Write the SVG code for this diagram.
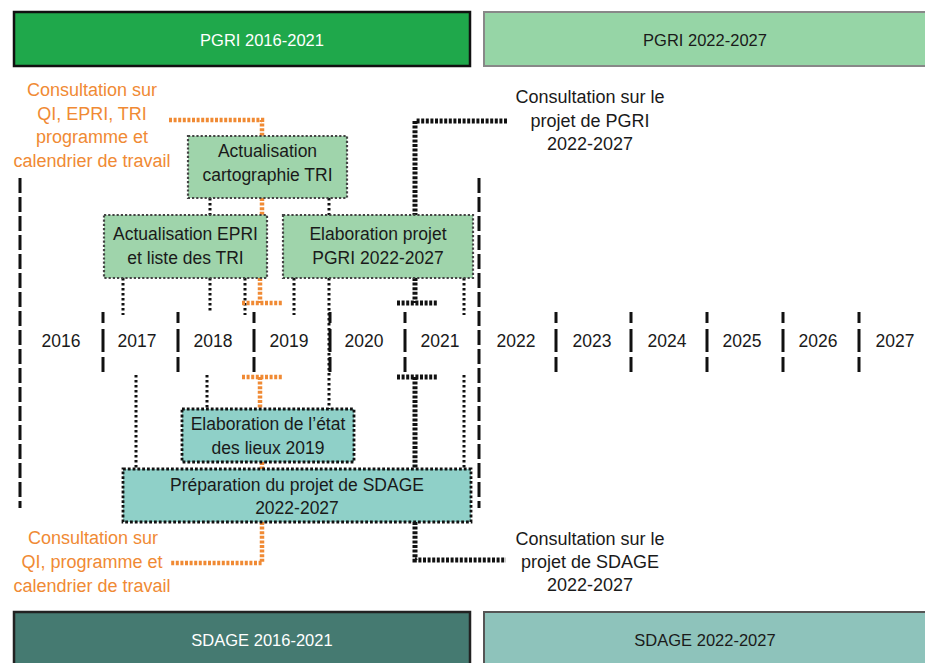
<svg xmlns="http://www.w3.org/2000/svg" width="925" height="663" viewBox="0 0 925 663">
<style>
text{font-family:"Liberation Sans",Arial,sans-serif;text-anchor:middle}
.bar{font-size:16.5px}
.yr{font-size:17.5px;fill:#1a1a1a}
.nt{font-size:17.5px;fill:#1a1a1a}
.cb{font-size:18px;fill:#1a1a1a}
.co{font-size:18px;fill:#f08a34}
.gn{fill:#9fd4ab;stroke:#444;stroke-width:2.2;stroke-dasharray:2.2 2}
.tl{fill:#8fd0c8;stroke:#111;stroke-width:2.8;stroke-dasharray:2.8 2}
.sepL{stroke:#111;stroke-width:3;stroke-dasharray:15 4;fill:none}
.sepS{stroke:#111;stroke-width:3;stroke-dasharray:11 6 23 5 15;fill:none}
.thin{stroke:#111;stroke-width:3;stroke-dasharray:2.5 2.5;fill:none}
.thick{stroke:#111;stroke-width:5;stroke-dasharray:3 1.6;fill:none}
.or{stroke:#f08a34;stroke-width:4.5;stroke-dasharray:3 1.6;fill:none}
</style>

<g id="bars">
<g id="pgri1"><rect x="14" y="12" width="456" height="54" fill="#1fa84b" stroke="#111" stroke-width="2.5"/><text class="bar" x="262" y="46" fill="#fff">PGRI 2016-2021</text></g>
<g id="pgri2"><rect x="484" y="12" width="450" height="54" fill="#96d5a6" stroke="#888" stroke-width="2"/><text class="bar" x="705" y="46" fill="#1a1a1a">PGRI 2022-2027</text></g>
<g id="sdage1"><rect x="14" y="612" width="456" height="60" fill="#457a71" stroke="#222" stroke-width="2.5"/><text class="bar" x="262" y="646" fill="#fff">SDAGE 2016-2021</text></g>
<g id="sdage2"><rect x="484" y="612" width="450" height="60" fill="#8ec3bb" stroke="#555" stroke-width="2"/><text class="bar" x="705" y="646" fill="#1a1a1a">SDAGE 2022-2027</text></g>
</g>

<g id="timeline">
<line class="sepL" x1="20" y1="178" x2="20" y2="508"/>
<line class="sepL" x1="479" y1="178" x2="479" y2="508"/>
<line class="sepS" x1="103" y1="312" x2="103" y2="372"/>
<line class="sepS" x1="178" y1="312" x2="178" y2="372"/>
<line class="sepS" x1="254" y1="312" x2="254" y2="372"/>
<line class="sepS" x1="330" y1="312" x2="330" y2="372"/>
<line class="sepS" x1="405" y1="312" x2="405" y2="372"/>
<line class="sepS" x1="556" y1="312" x2="556" y2="372"/>
<line class="sepS" x1="631" y1="312" x2="631" y2="372"/>
<line class="sepS" x1="707" y1="312" x2="707" y2="372"/>
<line class="sepS" x1="783" y1="312" x2="783" y2="372"/>
<line class="sepS" x1="859" y1="312" x2="859" y2="372"/>
<text class="yr" x="61" y="347">2016</text>
<text class="yr" x="137" y="347">2017</text>
<text class="yr" x="213" y="347">2018</text>
<text class="yr" x="289" y="347">2019</text>
<text class="yr" x="364" y="347">2020</text>
<text class="yr" x="440" y="347">2021</text>
<text class="yr" x="516" y="347">2022</text>
<text class="yr" x="592" y="347">2023</text>
<text class="yr" x="667" y="347">2024</text>
<text class="yr" x="742" y="347">2025</text>
<text class="yr" x="818" y="347">2026</text>
<text class="yr" x="895" y="347">2027</text>
</g>

<g id="connectors">
<path class="thin" d="M210 198V215M329 198V215"/>
<path class="thin" d="M123 278V315M210 278V313M245 278V315M294 278V315M464 278V315"/>
<path class="thin" d="M329 278V409"/>
<path class="thin" d="M136 375V469M207 375V409M464 375V469"/>
<path class="thick" d="M507 121H415V215"/>
<path class="thick" d="M415 278V303M397 303H437"/>
<path class="thick" d="M397 377H437M415 377V469"/>
<path class="thick" d="M415 522V560H506"/>
<path class="or" d="M169 120H262V136"/>
<path class="or" d="M262 198V215"/>
<path class="or" d="M260 278V303M242 303H282"/>
<path class="or" d="M242 377H282M260 377V409"/>
<path class="or" d="M262 462V469"/>
<path class="or" d="M262 522V563H170"/>
</g>

<g id="n-cartographie"><rect class="gn" x="188" y="136" width="159" height="62"/><text class="nt" x="267.5" y="157">Actualisation</text><text class="nt" x="267.5" y="181">cartographie TRI</text></g>
<g id="n-epri"><rect class="gn" x="104" y="215" width="163" height="63"/><text class="nt" x="185.5" y="240">Actualisation EPRI</text><text class="nt" x="185.5" y="264">et liste des TRI</text></g>
<g id="n-pgri"><rect class="gn" x="283" y="215" width="190" height="63"/><text class="nt" x="378" y="240">Elaboration projet</text><text class="nt" x="378" y="264">PGRI 2022-2027</text></g>
<g id="n-etat"><rect class="tl" x="182" y="409" width="172" height="53"/><text class="nt" x="268" y="430">Elaboration de l’état</text><text class="nt" x="268" y="454">des lieux 2019</text></g>
<g id="n-sdage"><rect class="tl" x="123" y="469" width="348" height="53"/><text class="nt" x="297" y="491">Préparation du projet de SDAGE</text><text class="nt" x="297" y="514">2022-2027</text></g>

<g id="consult-top-left"><text class="co" x="92" y="96">Consultation sur</text><text class="co" x="92" y="119.5">QI, EPRI, TRI</text><text class="co" x="92" y="143">programme et</text><text class="co" x="92" y="166.5">calendrier de travail</text></g>
<g id="consult-bottom-left"><text class="co" x="93" y="544">Consultation sur</text><text class="co" x="92" y="568">QI, programme et</text><text class="co" x="92" y="592">calendrier de travail</text></g>
<g id="consult-pgri"><text class="cb" x="590" y="103">Consultation sur le</text><text class="cb" x="590" y="127">projet de PGRI</text><text class="cb" x="590" y="150">2022-2027</text></g>
<g id="consult-sdage"><text class="cb" x="590" y="545">Consultation sur le</text><text class="cb" x="590" y="568">projet de SDAGE</text><text class="cb" x="590" y="591">2022-2027</text></g>
</svg>
